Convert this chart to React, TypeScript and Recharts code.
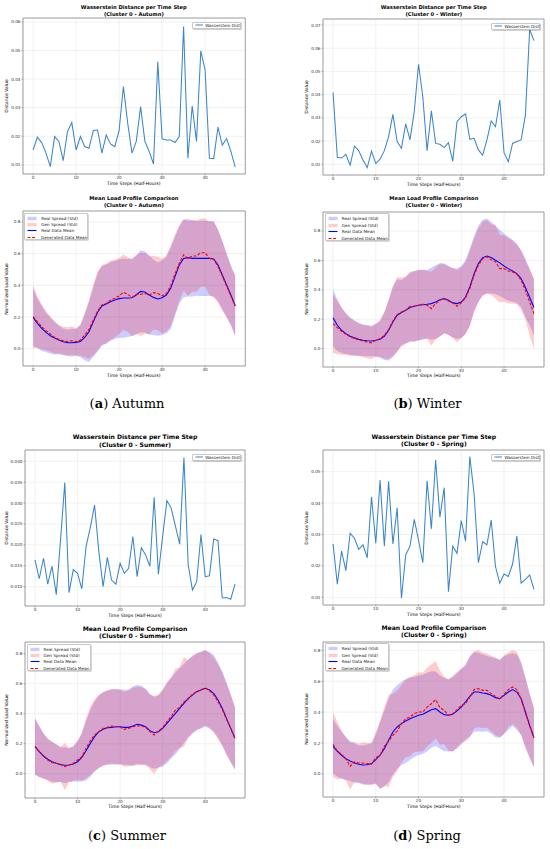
import React from 'react';
import { LineChart, ComposedChart, Line, Area, XAxis, YAxis, CartesianGrid, ReferenceArea } from 'recharts';

// ---------- data ----------
const STEPS = [0,1,2,3,4,5,6,7,8,9,10,11,12,13,14,15,16,17,18,19,20,21,22,23,24,25,26,27,28,29,30,31,32,33,34,35,36,37,38,39,40,41,42,43,44,45,46,47];
const X_TICKS = [0, 10, 20, 30, 40];
const X_DOMAIN: [number, number] = [-2.35, 49.35];

const autumnWass = [0.0152,0.0197,0.0178,0.0141,0.0094,0.0199,0.0182,0.0115,0.0217,0.0248,0.0152,0.0199,0.0164,0.0158,0.022,0.0222,0.0141,0.0204,0.0173,0.0164,0.022,0.0374,0.0246,0.0141,0.0182,0.0304,0.0182,0.0147,0.0103,0.0461,0.0191,0.0187,0.0187,0.0178,0.0199,0.0584,0.0123,0.0306,0.0182,0.0499,0.0432,0.0123,0.0122,0.0232,0.0169,0.0192,0.0147,0.0092];
const winterWass = [0.0409,0.013,0.0127,0.0143,0.0096,0.0179,0.0159,0.0119,0.0086,0.0157,0.0103,0.0122,0.0159,0.0219,0.0315,0.0198,0.0169,0.0274,0.0205,0.0327,0.0531,0.0391,0.0159,0.033,0.019,0.0186,0.0172,0.0193,0.0114,0.0284,0.0305,0.0317,0.0208,0.0212,0.0162,0.014,0.0205,0.0287,0.0262,0.0377,0.015,0.0111,0.019,0.0198,0.0205,0.0312,0.0681,0.0633];
const summerWass = [0.0164,0.0119,0.0168,0.0106,0.0149,0.0081,0.0212,0.0349,0.0086,0.0141,0.0132,0.0095,0.0196,0.0242,0.0295,0.0184,0.01,0.017,0.0116,0.0106,0.0156,0.0132,0.0144,0.022,0.0124,0.0193,0.0176,0.0149,0.0314,0.013,0.0221,0.0306,0.0288,0.0245,0.0202,0.0409,0.0152,0.0092,0.0112,0.0225,0.0124,0.0126,0.0214,0.021,0.0073,0.0074,0.007,0.0106];
const springWass = [0.027,0.0142,0.0247,0.0185,0.0304,0.0288,0.0253,0.0267,0.0226,0.042,0.0272,0.0473,0.0263,0.0469,0.027,0.0385,0.0097,0.0235,0.0263,0.0348,0.0282,0.021,0.0471,0.0318,0.0537,0.0355,0.0449,0.0118,0.0263,0.024,0.0344,0.0279,0.0548,0.0429,0.021,0.0277,0.0267,0.0346,0.0198,0.0145,0.0174,0.0166,0.0206,0.0295,0.0145,0.0157,0.0171,0.0125];

const autumnRealMean = [0.198,0.16,0.128,0.103,0.082,0.067,0.055,0.044,0.038,0.038,0.04,0.046,0.072,0.107,0.17,0.23,0.27,0.282,0.297,0.307,0.316,0.32,0.32,0.322,0.339,0.362,0.358,0.339,0.324,0.314,0.322,0.339,0.381,0.455,0.528,0.57,0.575,0.57,0.57,0.57,0.57,0.57,0.566,0.528,0.465,0.402,0.339,0.27];
const autumnGenMean = [0.202,0.17,0.139,0.114,0.093,0.072,0.059,0.05,0.046,0.05,0.044,0.055,0.086,0.122,0.181,0.238,0.276,0.286,0.307,0.318,0.333,0.356,0.343,0.324,0.343,0.343,0.349,0.339,0.354,0.349,0.333,0.349,0.396,0.472,0.539,0.592,0.57,0.585,0.585,0.606,0.606,0.57,0.564,0.518,0.459,0.396,0.333,0.27];
const autumnRealStd = [0.18,0.158,0.142,0.124,0.114,0.103,0.09,0.084,0.082,0.088,0.084,0.1,0.145,0.19,0.22,0.247,0.25,0.25,0.248,0.246,0.247,0.25,0.246,0.242,0.248,0.26,0.256,0.25,0.237,0.232,0.235,0.242,0.258,0.25,0.245,0.245,0.245,0.24,0.235,0.238,0.238,0.235,0.238,0.225,0.215,0.2,0.19,0.19];
const autumnGenStd = [0.2,0.16,0.142,0.124,0.112,0.1,0.09,0.088,0.09,0.09,0.085,0.1,0.14,0.185,0.222,0.25,0.252,0.252,0.25,0.245,0.24,0.238,0.236,0.245,0.25,0.262,0.255,0.248,0.232,0.232,0.236,0.24,0.255,0.25,0.24,0.225,0.235,0.225,0.225,0.215,0.215,0.232,0.238,0.232,0.22,0.2,0.185,0.19];

const winterRealMean = [0.209,0.159,0.125,0.102,0.084,0.073,0.063,0.057,0.054,0.052,0.057,0.063,0.084,0.125,0.181,0.227,0.245,0.261,0.279,0.288,0.295,0.299,0.302,0.306,0.317,0.333,0.34,0.329,0.311,0.306,0.317,0.351,0.42,0.51,0.578,0.619,0.63,0.619,0.601,0.583,0.562,0.544,0.528,0.51,0.476,0.415,0.347,0.279];
const winterGenMean = [0.17,0.143,0.118,0.098,0.079,0.07,0.061,0.052,0.045,0.039,0.057,0.068,0.091,0.129,0.188,0.231,0.249,0.261,0.288,0.288,0.295,0.302,0.295,0.272,0.306,0.329,0.34,0.324,0.311,0.288,0.311,0.345,0.408,0.499,0.567,0.612,0.624,0.605,0.59,0.544,0.544,0.528,0.522,0.506,0.465,0.397,0.317,0.238];
const winterRealStd = [0.195,0.175,0.155,0.139,0.127,0.118,0.111,0.107,0.106,0.104,0.11,0.125,0.162,0.205,0.238,0.245,0.222,0.225,0.235,0.24,0.24,0.238,0.232,0.245,0.25,0.25,0.238,0.235,0.235,0.24,0.245,0.25,0.262,0.255,0.26,0.258,0.255,0.244,0.232,0.226,0.221,0.218,0.21,0.2,0.193,0.2,0.19,0.19];
const winterGenStd = [0.2,0.18,0.16,0.14,0.128,0.12,0.112,0.11,0.11,0.11,0.112,0.125,0.158,0.2,0.24,0.255,0.235,0.23,0.235,0.24,0.238,0.235,0.232,0.25,0.245,0.245,0.235,0.232,0.238,0.245,0.24,0.248,0.255,0.25,0.252,0.25,0.25,0.24,0.25,0.23,0.225,0.222,0.215,0.205,0.2,0.2,0.23,0.24];

const summerRealMean = [0.18,0.147,0.118,0.096,0.08,0.069,0.06,0.056,0.058,0.064,0.08,0.109,0.153,0.202,0.247,0.28,0.296,0.307,0.309,0.313,0.313,0.309,0.309,0.318,0.329,0.324,0.313,0.287,0.273,0.28,0.302,0.336,0.369,0.402,0.436,0.469,0.502,0.524,0.547,0.558,0.569,0.558,0.536,0.491,0.436,0.369,0.302,0.236];
const summerGenMean = [0.184,0.147,0.118,0.091,0.073,0.069,0.064,0.047,0.058,0.069,0.091,0.113,0.169,0.22,0.258,0.28,0.302,0.309,0.318,0.313,0.309,0.296,0.302,0.313,0.318,0.318,0.309,0.28,0.258,0.284,0.309,0.347,0.38,0.424,0.442,0.48,0.496,0.531,0.547,0.558,0.573,0.553,0.524,0.48,0.429,0.362,0.302,0.236];
const summerRealStd = [0.189,0.169,0.15,0.138,0.133,0.126,0.115,0.12,0.111,0.116,0.133,0.161,0.198,0.222,0.234,0.241,0.245,0.248,0.25,0.252,0.25,0.25,0.253,0.263,0.263,0.262,0.252,0.242,0.24,0.239,0.256,0.267,0.269,0.272,0.269,0.262,0.261,0.258,0.256,0.256,0.256,0.254,0.255,0.25,0.245,0.24,0.225,0.206];
const summerGenStd = [0.185,0.17,0.15,0.14,0.14,0.128,0.118,0.156,0.115,0.118,0.13,0.158,0.2,0.228,0.238,0.245,0.245,0.246,0.248,0.25,0.248,0.25,0.252,0.26,0.262,0.26,0.255,0.25,0.26,0.245,0.25,0.262,0.265,0.275,0.27,0.3,0.258,0.258,0.255,0.252,0.25,0.25,0.25,0.25,0.245,0.238,0.225,0.21];

const springRealMean = [0.179,0.147,0.121,0.099,0.084,0.071,0.063,0.058,0.06,0.067,0.093,0.121,0.164,0.218,0.272,0.304,0.326,0.343,0.358,0.369,0.38,0.386,0.401,0.416,0.423,0.401,0.384,0.38,0.386,0.408,0.433,0.466,0.502,0.53,0.53,0.524,0.52,0.509,0.494,0.487,0.509,0.53,0.546,0.53,0.487,0.401,0.315,0.235];
const springGenMean = [0.192,0.149,0.127,0.099,0.05,0.078,0.071,0.071,0.067,0.063,0.106,0.121,0.179,0.213,0.25,0.278,0.326,0.358,0.369,0.39,0.401,0.401,0.433,0.455,0.481,0.429,0.412,0.38,0.39,0.416,0.444,0.455,0.498,0.546,0.552,0.541,0.541,0.52,0.502,0.487,0.515,0.546,0.563,0.546,0.487,0.395,0.308,0.235];
const springRealStd = [0.175,0.165,0.152,0.138,0.13,0.127,0.122,0.128,0.13,0.132,0.16,0.215,0.245,0.27,0.275,0.27,0.27,0.272,0.268,0.259,0.257,0.256,0.254,0.248,0.24,0.237,0.237,0.235,0.24,0.243,0.243,0.243,0.26,0.257,0.254,0.25,0.243,0.248,0.256,0.252,0.251,0.245,0.235,0.245,0.235,0.225,0.205,0.19];
const springGenStd = [0.21,0.185,0.155,0.14,0.15,0.13,0.125,0.135,0.135,0.138,0.165,0.22,0.255,0.3,0.27,0.26,0.25,0.25,0.255,0.25,0.255,0.255,0.255,0.255,0.25,0.24,0.22,0.23,0.245,0.245,0.24,0.245,0.26,0.25,0.25,0.245,0.24,0.245,0.25,0.25,0.255,0.24,0.24,0.245,0.235,0.225,0.21,0.195];

const autumnWassTicks = [0.01, 0.02, 0.03, 0.04, 0.05, 0.06];
const winterWassTicks = [0.01, 0.02, 0.03, 0.04, 0.05, 0.06, 0.07];
const summerWassTicks = [0.01, 0.015, 0.02, 0.025, 0.03, 0.035, 0.04];
const springWassTicks = [0.01, 0.02, 0.03, 0.04, 0.05];
const meanTicks = [0.0, 0.2, 0.4, 0.6, 0.8];

// ---------- styling ----------
const FONT = '"DejaVu Sans", Verdana, sans-serif';
const PADL = 22, PADT = 2, PADR = 3, PADB = 12;
const TICK_FS = 4.2;
const WASS_COLOR = '#3b86c9';

const tickStyle = { fontSize: TICK_FS, fill: '#333', fontFamily: FONT };

function Txt({ x, y, children, size, bold, rotate, family }: any) {
  return (
    <div style={{
      position: 'absolute', left: x, top: y, transform: `translate(-50%, -50%)${rotate ? ' rotate(-90deg)' : ''}`,
      whiteSpace: 'nowrap', fontFamily: family || FONT, fontSize: size, fontWeight: bold ? 'bold' : 'normal',
      color: '#000', lineHeight: 1,
    }}>{children}</div>
  );
}

function Titles({ frame, lines, ys, size }: any) {
  const cx = (frame.x0 + frame.x1) / 2;
  return (
    <>
      <Txt x={cx} y={ys[0]} size={size} bold>{lines[0]}</Txt>
      <Txt x={cx} y={ys[1]} size={size} bold>{lines[1]}</Txt>
    </>
  );
}

function XLabel({ frame, xly }: any) {
  return <Txt x={(frame.x0 + frame.x1) / 2} y={xly} size={4.5}>Time Steps (Half-Hours)</Txt>;
}

function Axes({ yDomain, yTicks, dec }: any) {
  return [
    <CartesianGrid key="g" stroke="#e8e8e8" strokeWidth={0.6} />,
    <XAxis key="x" dataKey="t" type="number" domain={X_DOMAIN} ticks={X_TICKS} height={PADB}
      tick={tickStyle} tickSize={1.5} tickMargin={1} axisLine={false}
      tickLine={{ stroke: '#666', strokeWidth: 0.5 }} allowDataOverflow interval={0} />,
    <YAxis key="y" width={PADL} domain={yDomain} ticks={yTicks} type="number" allowDataOverflow
      tick={tickStyle} tickSize={1.5} tickMargin={1} axisLine={false} interval={0}
      tickLine={{ stroke: '#666', strokeWidth: 0.5 }} tickFormatter={(v: number) => v.toFixed(dec)} />,
  ];
}

function WassPanel({ frame, values, yDomain, yTicks, dec, season, titleYs, titleSize, xly, ylx }: any) {
  const w = frame.x1 - frame.x0 + PADL + PADR;
  const h = frame.y1 - frame.y0 + PADT + PADB;
  const rows = STEPS.map((t, i) => ({ t, v: values[i] }));
  return (
    <>
      <Titles frame={frame} lines={['Wasserstein Distance per Time Step', `(Cluster 0 - ${season})`]} ys={titleYs} size={titleSize} />
      <div style={{ position: 'absolute', left: frame.x0 - PADL, top: frame.y0 - PADT }}>
        <LineChart width={w} height={h} data={rows} margin={{ top: PADT, right: PADR, bottom: 0, left: 0 }}>
          {Axes({ yDomain, yTicks, dec })}
          <Line dataKey="v" type="linear" stroke={WASS_COLOR} strokeWidth={1.05} dot={false} activeDot={false} isAnimationActive={false} />
          <ReferenceArea x1={X_DOMAIN[0]} x2={X_DOMAIN[1]} y1={yDomain[0]} y2={yDomain[1]} fill="none" stroke="#8a8a8a" strokeWidth={0.8} ifOverflow="visible" />
        </LineChart>
      </div>
      <XLabel frame={frame} xly={xly} />
      <Txt x={ylx} y={(frame.y0 + frame.y1) / 2} size={4.5} rotate>Distance Value</Txt>
      <div style={{
        position: 'absolute', left: frame.x1 - 53, top: frame.y0 + 3.5, width: 49, height: 7.6,
        background: '#fff', border: '0.5px solid #c8c8c8', borderRadius: 1, boxShadow: '0.8px 0.8px 0 rgba(0,0,0,0.25)',
        fontFamily: FONT, fontSize: TICK_FS, display: 'flex', alignItems: 'center', boxSizing: 'border-box',
      }}>
        <svg width={12} height={6} style={{ marginLeft: 2 }}><line x1={0.5} y1={3} x2={8} y2={3} stroke={WASS_COLOR} strokeWidth={1} /></svg>
        <span style={{ color: '#222', whiteSpace: 'nowrap' }}>Wasserstein Dist</span>
      </div>
    </>
  );
}

function MeanPanel({ frame, realMean, genMean, realStd, genStd, yDomain, season, titleYs, titleSize, xly, ylx }: any) {
  const w = frame.x1 - frame.x0 + PADL + PADR;
  const h = frame.y1 - frame.y0 + PADT + PADB;
  const rows = STEPS.map((t, i) => ({
    t,
    rm: realMean[i],
    gm: genMean[i],
    rb: [realMean[i] - realStd[i], realMean[i] + realStd[i]],
    gb: [genMean[i] - genStd[i], genMean[i] + genStd[i]],
  }));
  const entries = [
    { kind: 'patch', color: '#0000ff', label: 'Real Spread (Std)' },
    { kind: 'patch', color: '#ff0000', label: 'Gen Spread (Std)' },
    { kind: 'line', color: '#0000ff', label: 'Real Data Mean' },
    { kind: 'dash', color: '#ff0000', label: 'Generated Data Mean' },
  ];
  return (
    <>
      <Titles frame={frame} lines={['Mean Load Profile Comparison', `(Cluster 0 - ${season})`]} ys={titleYs} size={titleSize} />
      <div style={{ position: 'absolute', left: frame.x0 - PADL, top: frame.y0 - PADT }}>
        <ComposedChart width={w} height={h} data={rows} margin={{ top: PADT, right: PADR, bottom: 0, left: 0 }}>
          {Axes({ yDomain, yTicks: meanTicks, dec: 1 })}
          <Area dataKey="rb" type="linear" stroke="none" fill="#0000ff" fillOpacity={0.2} dot={false} activeDot={false} isAnimationActive={false} />
          <Area dataKey="gb" type="linear" stroke="none" fill="#ff0000" fillOpacity={0.2} dot={false} activeDot={false} isAnimationActive={false} />
          <Line dataKey="rm" type="linear" stroke="#0000ff" strokeWidth={1.1} dot={false} activeDot={false} isAnimationActive={false} />
          <Line dataKey="gm" type="linear" stroke="#ff0000" strokeWidth={1.1} strokeDasharray="3 1.6" dot={false} activeDot={false} isAnimationActive={false} />
          <ReferenceArea x1={X_DOMAIN[0]} x2={X_DOMAIN[1]} y1={yDomain[0]} y2={yDomain[1]} fill="none" stroke="#8a8a8a" strokeWidth={0.8} ifOverflow="visible" />
        </ComposedChart>
      </div>
      <XLabel frame={frame} xly={xly} />
      <Txt x={ylx} y={(frame.y0 + frame.y1) / 2} size={4.5} rotate>Normalized Load Value</Txt>
      <div style={{
        position: 'absolute', left: frame.x0 + 1.5, top: frame.y0 + 1.7, width: 64, height: 27.3,
        background: '#fff', border: '0.5px solid #c8c8c8', borderRadius: 1, boxShadow: '0.8px 0.8px 0 rgba(0,0,0,0.2)',
        fontFamily: FONT, fontSize: TICK_FS, boxSizing: 'border-box', paddingTop: 1.3,
      }}>
        {entries.map((e) => (
          <div key={e.label} style={{ display: 'flex', alignItems: 'center', height: 6.4 }}>
            <svg width={14} height={5} style={{ marginLeft: 2 }}>
              {e.kind === 'patch' && <rect x={0.5} y={0.8} width={9} height={3.4} fill={e.color} fillOpacity={0.2} />}
              {e.kind === 'line' && <line x1={0.5} y1={2.5} x2={9.5} y2={2.5} stroke={e.color} strokeWidth={1.1} />}
              {e.kind === 'dash' && <line x1={0.5} y1={2.5} x2={9.5} y2={2.5} stroke={e.color} strokeWidth={1.1} strokeDasharray="3 1.6" />}
            </svg>
            <span style={{ color: '#222', whiteSpace: 'nowrap' }}>{e.label}</span>
          </div>
        ))}
      </div>
    </>
  );
}

const CAP_FONT = '"DejaVu Serif", "Liberation Serif", serif';

export default function App() {
  return (
    <div style={{ position: 'absolute', left: 0, top: 0, width: 550, height: 849, background: '#fff', overflow: 'hidden' }}>
      <WassPanel frame={{ x0: 22.7, y0: 18, x1: 245, y1: 174 }} values={autumnWass} yDomain={[0.0068, 0.0614]}
        yTicks={autumnWassTicks} dec={2} season="Autumn" titleYs={[8, 15]} titleSize={5.2} xly={184} ylx={6.7} />
      <MeanPanel frame={{ x0: 22.7, y0: 211, x1: 245, y1: 366 }} realMean={autumnRealMean} genMean={autumnGenMean}
        realStd={autumnRealStd} genStd={autumnGenStd} yDomain={[-0.109, 0.869]} season="Autumn"
        titleYs={[198.5, 205.5]} titleSize={5.2} xly={375.7} ylx={7} />
      <Txt x={127} y={403} size={13} family={CAP_FONT}>(<b>a</b>) Autumn</Txt>

      <WassPanel frame={{ x0: 323.3, y0: 19, x1: 544.3, y1: 175 }} values={winterWass} yDomain={[0.0054, 0.0726]}
        yTicks={winterWassTicks} dec={2} season="Winter" titleYs={[8.3, 15]} titleSize={5.2} xly={184.5} ylx={307.3} />
      <MeanPanel frame={{ x0: 323.3, y0: 211.7, x1: 544.3, y1: 366.7 }} realMean={winterRealMean} genMean={winterGenMean}
        realStd={winterRealStd} genStd={winterGenStd} yDomain={[-0.125, 0.929]} season="Winter"
        titleYs={[198.5, 205.5]} titleSize={5.2} xly={375.7} ylx={307.3} />
      <Txt x={427.5} y={403} size={13} family={CAP_FONT}>(<b>b</b>) Winter</Txt>

      <WassPanel frame={{ x0: 25, y0: 450, x1: 245, y1: 606 }} values={summerWass} yDomain={[0.00538, 0.0427]}
        yTicks={summerWassTicks} dec={3} season="Summer" titleYs={[437, 445]} titleSize={6.1} xly={616} ylx={6.7} />
      <MeanPanel frame={{ x0: 25, y0: 642, x1: 245, y1: 798 }} realMean={summerRealMean} genMean={summerGenMean}
        realStd={summerRealStd} genStd={summerGenStd} yDomain={[-0.162, 0.878]} season="Summer"
        titleYs={[629, 636]} titleSize={6.1} xly={807} ylx={6.7} />
      <Txt x={127} y={835} size={13} family={CAP_FONT}>(<b>c</b>) Summer</Txt>

      <WassPanel frame={{ x0: 323.3, y0: 450, x1: 544.3, y1: 605 }} values={springWass} yDomain={[0.00755, 0.0569]}
        yTicks={springWassTicks} dec={2} season="Spring" titleYs={[437, 444]} titleSize={6.1} xly={615} ylx={307.3} />
      <MeanPanel frame={{ x0: 323.3, y0: 641.7, x1: 544.3, y1: 796.7 }} realMean={springRealMean} genMean={springGenMean}
        realStd={springRealStd} genStd={springGenStd} yDomain={[-0.149, 0.854]} season="Spring"
        titleYs={[628, 635]} titleSize={6.1} xly={806.7} ylx={307.3} />
      <Txt x={427} y={835} size={13} family={CAP_FONT}>(<b>d</b>) Spring</Txt>
    </div>
  );
}
